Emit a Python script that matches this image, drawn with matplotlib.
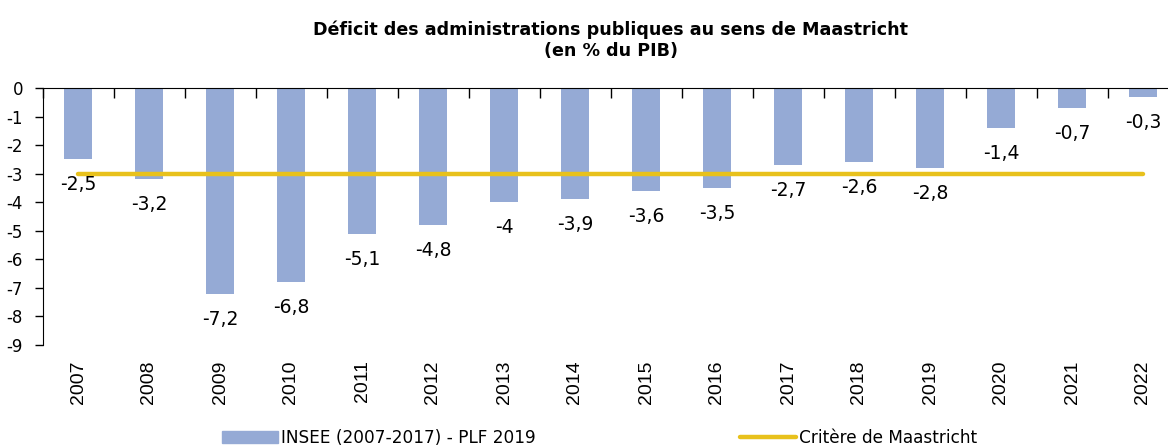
import matplotlib

matplotlib.use("Agg")
import matplotlib.pyplot as plt
from matplotlib.lines import Line2D
from matplotlib.patches import Patch
import numpy as np

# Data
years = ["2007", "2008", "2009", "2010", "2011", "2012", "2013", "2014",
         "2015", "2016", "2017", "2018", "2019", "2020", "2021", "2022"]
deficit = [-2.5, -3.2, -7.2, -6.8, -5.1, -4.8, -4.0, -3.9,
           -3.6, -3.5, -2.7, -2.6, -2.8, -1.4, -0.7, -0.3]
maastricht = [-3] * len(years)
y_ticks = [0, -1, -2, -3, -4, -5, -6, -7, -8, -9]

BAR_COLOR = "#95AAD5"
LINE_COLOR = "#E8C11C"

plt.rcParams["font.family"] = "DejaVu Sans"

fig = plt.figure(figsize=(11.68, 4.48), dpi=100)
# right edge runs slightly past the figure, as in the reference (cropped)
ax = fig.add_axes([42.5 / 1168, 1 - 345 / 448, 1136 / 1168, 257 / 448])

x = np.arange(len(years))
ax.bar(x, deficit, width=0.4, color=BAR_COLOR, zorder=2)
ax.plot(x, maastricht, color=LINE_COLOR, lw=3.2, solid_capstyle="round",
        zorder=3)

for xi, v in zip(x, deficit):
    label = f"{v:g}".replace(".", ",")
    ax.annotate(label, (xi, v), xytext=(0, -11.5), textcoords="offset points",
                ha="center", va="top", fontsize=13.5)

ax.set_xlim(-0.5, len(years) - 0.5)
ax.set_ylim(-9, 0)
ax.set_yticks(y_ticks)
ax.set_yticklabels([str(t) for t in y_ticks], fontsize=12)
ax.tick_params(axis="y", length=6, width=1, pad=8)

ax.set_xticks(x)
ax.set_xticklabels(years, rotation=90, fontsize=14, family="Liberation Sans")
ax.tick_params(axis="x", which="major", length=0, pad=11)
ax.set_xticks(np.arange(len(years) + 1) - 0.5, minor=True)
ax.tick_params(axis="x", which="minor", top=True, bottom=False,
               direction="in", length=7, width=1)

for side in ("right", "bottom"):
    ax.spines[side].set_visible(False)

ax.set_title("Déficit des administrations publiques au sens de Maastricht\n"
             "(en % du PIB)", fontsize=12.6, fontweight="bold", pad=23,
             linespacing=1.25)

legend_kw = dict(loc="center left", frameon=False, borderpad=0,
                 borderaxespad=0, handlelength=3.3, handletextpad=0.2,
                 fontsize=12.2)
fig.legend(handles=[Patch(color=BAR_COLOR, label="INSEE (2007-2017) - PLF 2019")],
           bbox_to_anchor=(222 / 1168, 1 - 438 / 448), **legend_kw)
fig.legend(handles=[Line2D([], [], color=LINE_COLOR, lw=3.2,
                           solid_capstyle="round", label="Critère de Maastricht")],
           bbox_to_anchor=(740 / 1168, 1 - 438 / 448), **legend_kw)

fig.savefig("out.png", dpi=100)
